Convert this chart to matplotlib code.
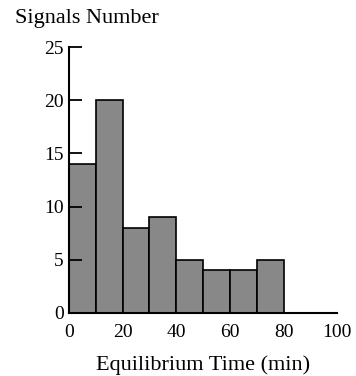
import matplotlib
matplotlib.use("Agg")
import matplotlib.pyplot as plt
import numpy as np

# histogram of equilibrium times (bin left edges, counts)
bin_edges = [0, 10, 20, 30, 40, 50, 60, 70]
counts = [14, 20, 8, 9, 5, 4, 4, 5]
bin_width = 10

plt.rcParams['font.family'] = ['Liberation Serif', 'DejaVu Serif']

fig = plt.figure(figsize=(3.56, 3.76), dpi=100)
ax = fig.add_axes([0.194, 0.1676, 0.753, 0.7074])

ax.bar(bin_edges, counts, width=bin_width, align='edge',
       color='#888888', edgecolor='black', linewidth=1.2, zorder=1)

ax.set_xlim(0, 100)
ax.set_ylim(0, 25)
ax.set_xticks([0, 20, 40, 60, 80, 100])
ax.set_yticks([0, 5, 10, 15, 20, 25])

ax.spines['top'].set_visible(False)
ax.spines['right'].set_visible(False)
for s in ('left', 'bottom'):
    ax.spines[s].set_linewidth(1.5)
    ax.spines[s].set_zorder(3)

ax.tick_params(axis='y', direction='in', length=9, width=1.3, labelsize=14, pad=4)
ax.tick_params(axis='x', length=0, labelsize=14, pad=8)

ax.set_xlabel("Equilibrium Time (min)", fontsize=16, labelpad=10)
fig.text(0.042, 0.952, "Signals Number", fontsize=16, ha='left', va='center')

fig.savefig("out.png", dpi=100)
